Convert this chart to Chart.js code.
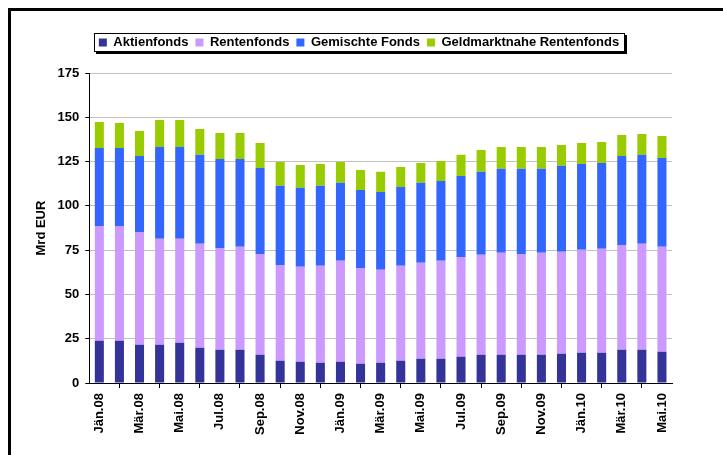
<!DOCTYPE html>
<html>
<head>
<meta charset="utf-8">
<script src="https://cdn.jsdelivr.net/npm/chart.js@4.4.1/dist/chart.umd.min.js"></script>
<style>
  html, body { margin: 0; padding: 0; background: #fff; overflow: hidden; }
  #frame { position: absolute; left: 8px; top: 8px; width: 800px; height: 600px; border: 3px solid #000; }
  #chart { position: absolute; left: 0; top: 0; }
</style>
</head>
<body>
<div id="frame"></div>
<canvas id="chart" width="723" height="455"></canvas>
<script>
// Monthly fund volumes (Mrd EUR), Jan 2008 - May 2010
const months = [
  'Jän.08', 'Feb.08', 'Mär.08', 'Apr.08', 'Mai.08', 'Jun.08', 'Jul.08', 'Aug.08', 'Sep.08', 'Okt.08', 'Nov.08', 'Dez.08',
  'Jän.09', 'Feb.09', 'Mär.09', 'Apr.09', 'Mai.09', 'Jun.09', 'Jul.09', 'Aug.09', 'Sep.09', 'Okt.09', 'Nov.09', 'Dez.09',
  'Jän.10', 'Feb.10', 'Mär.10', 'Apr.10', 'Mai.10'
];
const aktienfonds = [23.9, 23.9, 21.6, 21.6, 22.7, 19.9, 18.8, 18.8, 16.0, 12.6, 12.0, 11.5, 12.0, 10.9, 11.5, 12.6, 13.7, 13.7, 14.8, 16.0, 16.0, 16.0, 16.0, 16.5, 17.1, 17.1, 18.8, 18.8, 17.7];
const rentenfonds = [64.8, 64.8, 63.7, 59.8, 58.7, 58.7, 57.5, 58.1, 56.9, 54.1, 53.6, 54.7, 57.0, 54.1, 52.4, 53.6, 54.2, 55.3, 56.4, 56.4, 57.5, 56.9, 57.5, 57.6, 58.1, 58.7, 59.2, 59.8, 59.2];
const gemischteFonds = [44.0, 44.0, 42.9, 51.9, 51.9, 50.2, 50.2, 49.6, 48.5, 44.6, 44.6, 45.1, 44.0, 44.0, 44.0, 44.5, 45.1, 45.1, 45.7, 46.8, 47.4, 48.0, 47.4, 48.5, 48.5, 48.4, 50.2, 50.2, 50.2];
const geldmarktnahe = [14.7, 14.1, 14.1, 15.2, 15.2, 14.6, 14.7, 14.7, 14.1, 13.5, 12.9, 12.4, 11.8, 11.3, 11.3, 11.3, 11.2, 11.3, 11.9, 12.4, 12.4, 12.4, 12.4, 11.8, 11.8, 11.9, 11.8, 11.8, 12.4];

const FONT = '"Liberation Sans", Arial, sans-serif';
Chart.defaults.font.family = FONT;
Chart.defaults.font.size = 13;
Chart.defaults.font.weight = 'bold';
Chart.defaults.color = '#000';

// Framed legend with a drop shadow, like the spreadsheet original
const legendFrame = {
  id: 'legendFrame',
  beforeInit(chart) {
    const legend = chart.legend;
    if (!legend) return;
    const fit = legend.fit;
    legend.fit = function() {
      fit.call(this);
      this.height += 14;
    };
  },
  afterLayout(chart) {
    // centre the legend on the page rather than on the padded area
    const legend = chart.legend;
    if (!legend) return;
    legend.left += 6;
    legend.right += 6;
  },
  beforeDraw(chart) {
    const boxes = chart.legend && chart.legend.legendHitBoxes;
    if (!boxes || !boxes.length) return;
    const left = Math.round(Math.min(...boxes.map(b => b.left)) - 5);
    const right = Math.round(Math.max(...boxes.map(b => b.left + b.width)) + 6);
    const top = Math.round(boxes[0].top - 3.5);
    const bottom = Math.round(boxes[0].top + boxes[0].height + 3);
    const ctx = chart.ctx;
    ctx.save();
    ctx.fillStyle = '#000';
    ctx.fillRect(left + 2, top + 2, right - left, bottom - top);
    ctx.fillStyle = '#fff';
    ctx.fillRect(left, top, right - left, bottom - top);
    ctx.strokeStyle = '#000';
    ctx.lineWidth = 1;
    ctx.strokeRect(left + 0.5, top + 0.5, right - left - 1, bottom - top - 1);
    ctx.restore();
  }
};

const barStyle = { barPercentage: 0.45, categoryPercentage: 1.0, borderWidth: 0 };

new Chart(document.getElementById('chart').getContext('2d'), {
  type: 'bar',
  data: {
    labels: months,
    datasets: [
      { label: 'Aktienfonds', data: aktienfonds, backgroundColor: '#333399', ...barStyle },
      { label: 'Rentenfonds', data: rentenfonds, backgroundColor: '#CC99FF', ...barStyle },
      { label: 'Gemischte Fonds', data: gemischteFonds, backgroundColor: '#3366FF', ...barStyle },
      { label: 'Geldmarktnahe Rentenfonds', data: geldmarktnahe, backgroundColor: '#99CC00', ...barStyle }
    ]
  },
  options: {
    responsive: false,
    animation: false,
    devicePixelRatio: 1,
    layout: {
      padding: { left: 34, right: 51, top: 29, bottom: 15 }
    },
    plugins: {
      legend: {
        position: 'top',
        labels: {
          boxWidth: 8,
          boxHeight: 8,
          padding: 7,
          color: '#000',
          font: { size: 13, weight: 'bold' }
        }
      },
      tooltip: { enabled: false }
    },
    scales: {
      x: {
        stacked: true,
        grid: {
          offset: true,
          drawOnChartArea: false,
          drawTicks: true,
          tickLength: 5,
          color: '#000'
        },
        border: { display: true, color: '#000', width: 1 },
        ticks: {
          autoSkip: false,
          maxRotation: 90,
          minRotation: 90,
          padding: 5,
          font: { size: 13, weight: 'bold' },
          callback: function(value, index) {
            return index % 2 === 0 ? this.getLabelForValue(value) : null;
          }
        }
      },
      y: {
        stacked: true,
        min: 0,
        max: 175,
        ticks: {
          stepSize: 25,
          padding: 6,
          font: { size: 13, weight: 'bold' }
        },
        grid: {
          color: '#C0C0C0',
          tickColor: '#000',
          tickLength: 4
        },
        border: { display: true, color: '#000', width: 1 },
        title: {
          display: true,
          text: 'Mrd EUR',
          font: { size: 13, weight: 'bold' },
          padding: { top: 0, bottom: 2 }
        }
      }
    }
  },
  plugins: [legendFrame]
});
</script>
</body>
</html>
